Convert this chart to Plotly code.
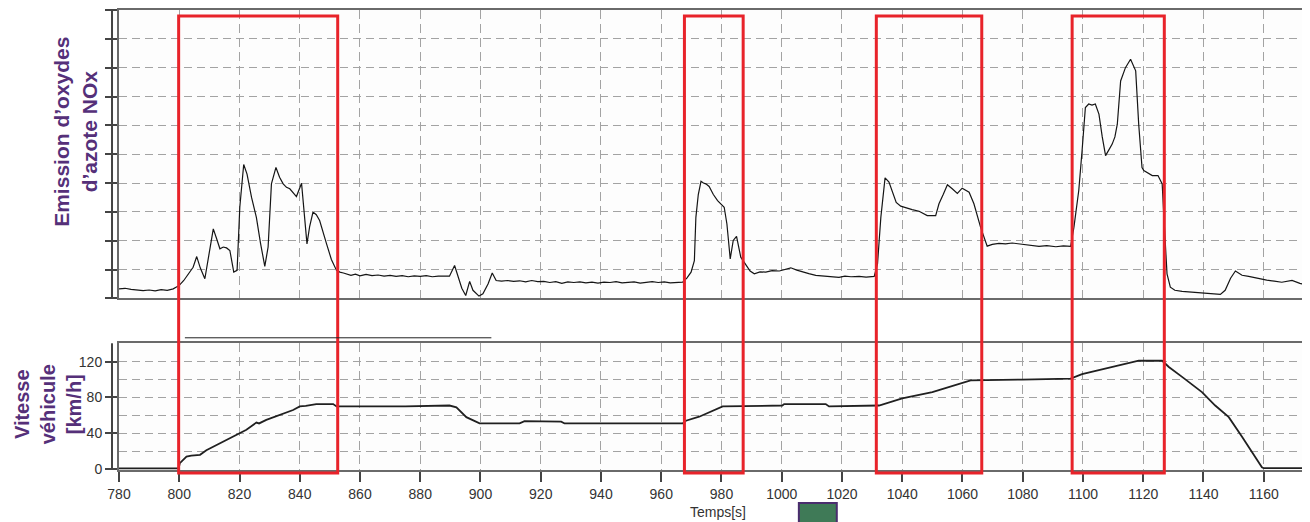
import plotly.graph_objects as go

# ---------------- data ----------------
# NOx emission (arbitrary units, 0..10 grid) vs time [s]
nox_samples = [
    (780, 0.33), (782, 0.35), (784, 0.31), (786, 0.30), (788, 0.27), (790, 0.29), (792, 0.26),
    (794, 0.30), (796, 0.28), (798, 0.33), (800, 0.45), (801.5, 0.62), (803, 0.85), (804.6, 1.08),
    (805.8, 1.45), (807, 1.05), (808.5, 0.68), (810, 1.6), (811.3, 2.41), (812.3, 2.1), (813.5, 1.72),
    (814.6, 1.78), (815.7, 1.75), (816.8, 1.66), (818.1, 0.91), (819.2, 0.97), (820.1, 3.16),
    (821.4, 4.64), (822.5, 4.31), (824, 3.5), (825.6, 2.81), (827, 1.9), (828.4, 1.11), (829.5, 1.78),
    (830.6, 3.97), (832.1, 4.54), (833.3, 4.2), (834.5, 3.97), (835.6, 3.85), (836.7, 3.80),
    (838.9, 3.53), (840.6, 3.99), (841.7, 2.70), (842.4, 1.89), (843.3, 2.5), (844.4, 2.99),
    (845.5, 2.9), (846.6, 2.70), (848.9, 1.89), (850.5, 1.35), (852.2, 0.97), (853.3, 0.91),
    (854.5, 0.88), (855.5, 0.85), (857, 0.80), (858.5, 0.84), (860, 0.78), (862, 0.83), (864, 0.79),
    (866, 0.81), (868, 0.77), (870, 0.80), (872, 0.76), (874, 0.79), (876, 0.75), (878, 0.78),
    (880, 0.76), (882, 0.79), (884, 0.75), (886, 0.77), (888, 0.76), (889.7, 0.77), (891.4, 1.14),
    (892.5, 0.74), (893.8, 0.35), (895.1, 0.10), (896.4, 0.59), (897.5, 0.28), (899.5, 0.08),
    (900.8, 0.16), (902.5, 0.5), (903.9, 0.88), (905.2, 0.62), (907, 0.60), (909, 0.62), (911, 0.59),
    (913, 0.61), (915, 0.57), (917, 0.62), (919, 0.58), (921, 0.59), (923, 0.55), (925, 0.58),
    (927, 0.52), (929, 0.57), (931, 0.55), (933, 0.57), (935, 0.54), (937, 0.56), (939, 0.53),
    (941, 0.56), (943, 0.55), (945, 0.58), (947, 0.54), (949, 0.56), (951, 0.57), (953, 0.53),
    (955, 0.56), (957, 0.58), (959, 0.55), (961, 0.57), (963, 0.54), (965, 0.56), (967.1, 0.56),
    (968.5, 0.7), (969.9, 0.91), (971.0, 1.31), (971.5, 2.81), (972.3, 3.6), (973.2, 4.06),
    (974.0, 4.0), (974.8, 3.97), (975.9, 3.88), (977.3, 3.6), (978.7, 3.39), (980.9, 3.16),
    (981.8, 2.58), (982.9, 1.37), (983.9, 2.01), (985.0, 2.15), (986.4, 1.43), (988.1, 1.14),
    (989.5, 0.95), (990.9, 0.85), (992.8, 0.92), (994.7, 0.91), (996.8, 0.96), (999.2, 0.95),
    (1001, 1.0), (1003.0, 1.06), (1005, 0.98), (1006.9, 0.91), (1009, 0.86), (1011.3, 0.80),
    (1013, 0.79), (1014.8, 0.76), (1016.8, 0.76), (1019, 0.73), (1021, 0.77), (1023, 0.75),
    (1025.7, 0.76), (1028, 0.74), (1030.7, 0.76), (1031.8, 1.20), (1032.9, 2.81), (1034.3, 4.18),
    (1035.6, 4.03), (1036.7, 3.74), (1038.0, 3.33), (1039.5, 3.2), (1041.1, 3.14), (1043.3, 3.08),
    (1045.6, 3.02), (1048.3, 2.87), (1051.1, 2.87), (1052.2, 3.28), (1053.6, 3.6), (1055.0, 3.94),
    (1056.6, 3.80), (1058.3, 3.64), (1059.9, 3.82), (1062.2, 3.68), (1063.8, 3.28), (1066.0, 2.47),
    (1068.2, 1.81), (1069.9, 1.87), (1072.1, 1.91), (1074.3, 1.89), (1076.5, 1.92), (1078.7, 1.89),
    (1081, 1.85), (1083, 1.82), (1085.4, 1.80), (1088, 1.83), (1091, 1.79), (1093.5, 1.82),
    (1095.9, 1.80), (1097.0, 2.47), (1098.6, 3.74), (1099.7, 5.12), (1100.8, 6.62), (1101.9, 6.74),
    (1103.0, 6.70), (1104.1, 6.74), (1105.3, 6.39), (1106.4, 5.6), (1107.5, 4.95), (1108.6, 5.15),
    (1109.7, 5.35), (1110.6, 5.6), (1111.4, 6.04), (1112.5, 7.54), (1114.1, 8.00), (1115.8, 8.29),
    (1116.9, 8.06), (1117.5, 7.89), (1118.5, 6.04), (1119.6, 4.54), (1120.2, 4.43), (1121.8, 4.34),
    (1123.0, 4.26), (1124.9, 4.26), (1125.7, 4.1), (1126.3, 3.97), (1126.8, 2.93), (1127.9, 0.85),
    (1129.0, 0.39), (1130.5, 0.28), (1132.9, 0.24), (1135, 0.22), (1137, 0.2), (1139, 0.19),
    (1140.6, 0.18), (1143, 0.16), (1145.6, 0.14), (1147.2, 0.28), (1149, 0.7), (1150.6, 0.95),
    (1152.8, 0.80), (1155, 0.76), (1158.3, 0.68), (1161, 0.63), (1163.5, 0.6), (1166.0, 0.56),
    (1169.4, 0.62), (1172, 0.52), (1174.9, 0.45),
]
nox_time = [p[0] for p in nox_samples]
nox_value = [p[1] for p in nox_samples]

# Vehicle speed [km/h] vs time [s]
speed_samples = [
    (780, 0.8), (799.8, 0.8), (800.2, 6.7), (802.4, 14), (804, 15), (806.9, 16), (809, 21),
    (811.3, 25), (814, 30), (817.9, 36), (820, 40), (822.3, 44), (825.6, 52), (826.5, 51),
    (828.9, 55), (831.5, 58), (834.5, 62), (837.8, 66), (840, 70), (842, 70.5), (845.5, 72.6),
    (851.1, 72.6), (852.2, 70), (867.6, 70), (875, 70), (889.7, 71), (892, 69), (895.3, 58),
    (899.7, 51), (913, 51), (914.6, 53.6), (926.8, 53), (927.9, 51), (967.1, 51), (968.2, 54),
    (972.6, 58.5), (977.1, 65), (980.4, 70), (1000.2, 71), (1000.8, 72.6), (1014.6, 72.6),
    (1015.7, 70), (1032.3, 71), (1040, 79), (1050, 86), (1055.5, 92), (1062.7, 99), (1079.8, 100),
    (1095.9, 101), (1099.7, 106), (1110.8, 115), (1118.5, 121), (1126.3, 121), (1128.5, 114),
    (1132.9, 103), (1139.5, 86), (1143.9, 71), (1148.4, 58), (1152.8, 36), (1159.4, 2), (1160, 1),
    (1175, 1),
]
speed_time = [p[0] for p in speed_samples]
speed_value = [p[1] for p in speed_samples]

# highlighted time windows (red frames)
highlight_start = [799.8, 967.7, 1031.4, 1096.4]
highlight_end = [852.6, 987.2, 1066.4, 1127.0]

x_ticks = list(range(780, 1161, 20))
speed_ticks = [0, 40, 80, 120]
speed_minor = [20, 40, 60, 80, 100, 120]

# ---------------- figure ----------------
W, H = 1302, 514
ML, MT, MB = 111, 1, 52
FONT = "Liberation Sans, Arial, sans-serif"
PURPLE = "#553079"
GRID = "#a3a3a3"
FRAME = "#6a6a6a"

fig = go.Figure()
fig.add_trace(go.Scatter(x=nox_time, y=nox_value, xaxis="x", yaxis="y", mode="lines",
                         line=dict(color="#151515", width=1.2), showlegend=False))
fig.add_trace(go.Scatter(x=speed_time, y=speed_value, xaxis="x2", yaxis="y2", mode="lines",
                         line=dict(color="#202020", width=1.8), showlegend=False))

ph = H - MT - MB
def py(pix):  # reference pixel y -> paper
    return (470 - pix) / ph
def px(pix):  # reference pixel x -> paper
    return (pix - 119) / (W - ML)

top_dom = [py(298), 1.0]
bot_dom = [0.0, py(343)]

common_x = dict(range=[780, 1174.7], dtick=20, tick0=780, showgrid=True, gridcolor=GRID,
                griddash="9px,5px", gridwidth=1, showline=True, mirror=True,
                linecolor=FRAME, linewidth=2, zeroline=False)

fig.update_layout(
    width=W, height=H,
    margin=dict(l=ML, r=0, t=MT, b=MB),
    paper_bgcolor="white", plot_bgcolor="#fdfdfd",
    font=dict(family=FONT, size=12, color="#333"),
    xaxis=dict(**common_x, anchor="y", showticklabels=False, ticks=""),
    yaxis=dict(domain=top_dom, range=[0, 10], dtick=1, showticklabels=False,
               ticks="outside", ticklen=12, tickwidth=1.5, tickcolor="#444",
               showgrid=True, gridcolor=GRID, griddash="8px,5px", showline=True, mirror=True,
               linecolor=FRAME, linewidth=2, zeroline=False),
    xaxis2=dict(**common_x, anchor="y2", matches="x", tickvals=x_ticks, ticks="outside",
                ticklen=10, tickwidth=1.5, tickcolor="#444",
                tickfont=dict(family=FONT, size=14, color="#333")),
    yaxis2=dict(domain=bot_dom, range=[-1, 140.5], tickvals=speed_ticks, ticks="outside",
                ticklen=12, tickwidth=1.5, tickcolor="#444", showgrid=False,
                minor=dict(tickvals=speed_minor, showgrid=True, gridcolor=GRID,
                           griddash="8px,5px", ticks=""),
                tickfont=dict(family=FONT, size=14, color="#333"),
                showline=True, mirror=True, linecolor=FRAME, linewidth=2, zeroline=False),
)

shapes = []
for a, b in zip(highlight_start, highlight_end):
    shapes.append(dict(type="rect", xref="x", yref="paper", x0=a, x1=b, y0=py(473), y1=py(15),
                       line=dict(color="#e8232a", width=3), fillcolor="rgba(0,0,0,0)"))
# axis brackets at the left
shapes.append(dict(type="line", xref="paper", yref="paper", x0=px(112), x1=px(112),
                   y0=top_dom[0], y1=top_dom[1], line=dict(color="#444", width=2)))
shapes.append(dict(type="line", xref="paper", yref="paper", x0=px(112), x1=px(112),
                   y0=bot_dom[0], y1=bot_dom[1], line=dict(color="#444", width=2)))
# thin horizontal line between the panels
shapes.append(dict(type="line", xref="paper", yref="paper", x0=px(185), x1=px(492),
                   y0=py(337.5), y1=py(337.5), line=dict(color="#222", width=1)))
# green box under the axis
shapes.append(dict(type="rect", xref="paper", yref="paper", x0=px(800), x1=px(838),
                   y0=py(535), y1=py(503), fillcolor="#3f7a57",
                   line=dict(color="#4a2d6e", width=2)))
fig.update_layout(shapes=shapes)

fig.add_annotation(xref="paper", yref="paper", x=px(75), y=py(131), textangle=-90,
                   xanchor="center", yanchor="middle",
                   text="<b>Emission d’oxydes<br>d’azote NOx</b>", showarrow=False,
                   align="center", font=dict(family=FONT, size=21, color=PURPLE))
fig.add_annotation(xref="paper", yref="paper", x=px(48), y=py(404), textangle=-90,
                   xanchor="center", yanchor="middle",
                   text="<b>Vitesse<br>véhicule<br>[km/h]</b>", showarrow=False,
                   align="center", font=dict(family=FONT, size=20, color=PURPLE))
fig.add_annotation(xref="paper", yref="paper", x=px(719), y=py(512),
                   xanchor="center", yanchor="middle",
                   text="Temps[s]", showarrow=False,
                   font=dict(family=FONT, size=14, color="#333"))

fig.write_html("out.html")
